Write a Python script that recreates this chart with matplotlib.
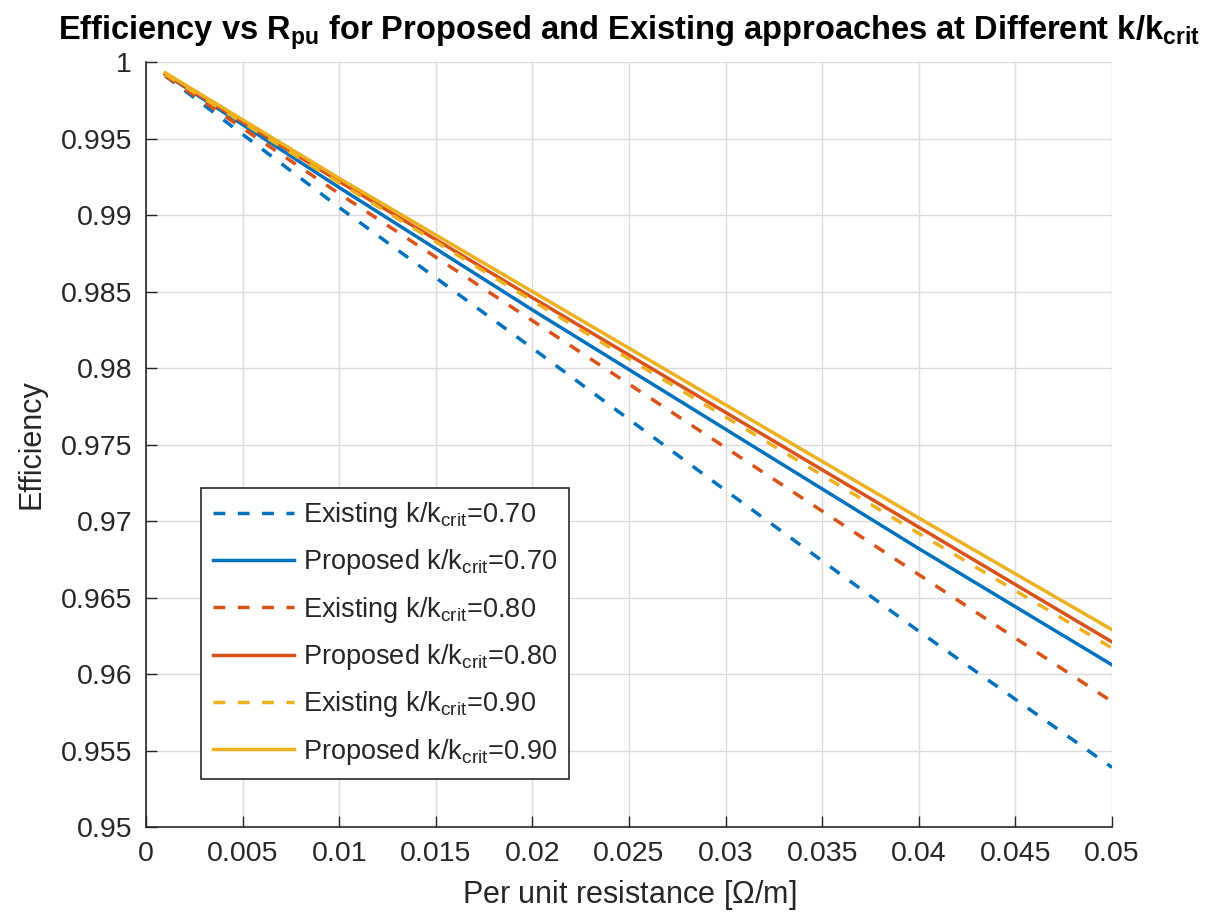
import matplotlib
matplotlib.use('Agg')
import matplotlib.pyplot as plt

# Datos (eficiencia vs resistencia por unidad)
r_pu = [0.001, 0.01, 0.02, 0.03, 0.04, 0.05]

existing_070 = [0.9991, 0.9905, 0.9813, 0.9720, 0.9628, 0.9539]
proposed_070 = [0.9992, 0.9918, 0.9838, 0.9760, 0.9682, 0.9606]
existing_080 = [0.9991, 0.9914, 0.9831, 0.9748, 0.9665, 0.9582]
proposed_080 = [0.9992, 0.9922, 0.9846, 0.9771, 0.9696, 0.9621]
existing_090 = [0.9992, 0.9921, 0.9844, 0.9768, 0.9692, 0.9617]
proposed_090 = [0.9993, 0.9924, 0.9850, 0.9776, 0.9702, 0.9629]

ratios = ['0.70', '0.80', '0.90']
colores = ['#0072BD', '#D95319', '#EDB120']

x_ticks = [0, 0.005, 0.01, 0.015, 0.02, 0.025, 0.03, 0.035, 0.04, 0.045, 0.05]
x_ticklabels = ['0', '0.005', '0.01', '0.015', '0.02', '0.025', '0.03', '0.035', '0.04', '0.045', '0.05']
y_ticks = [0.95, 0.955, 0.96, 0.965, 0.97, 0.975, 0.98, 0.985, 0.99, 0.995, 1.0]
y_ticklabels = ['0.95', '0.955', '0.96', '0.965', '0.97', '0.975', '0.98', '0.985', '0.99', '0.995', '1']

plt.rcParams['font.family'] = ['Liberation Sans', 'DejaVu Sans']
plt.rcParams['mathtext.default'] = 'regular'

fig = plt.figure(figsize=(12.16, 9.19), dpi=100)
ax = fig.add_axes([0.120, 0.100, 0.7945, 0.8325])

series = [(existing_070, proposed_070), (existing_080, proposed_080), (existing_090, proposed_090)]
for (ex, pr), ratio, c in zip(series, ratios, colores):
    ax.plot(r_pu, ex, color=c, lw=2.5, linestyle=(0, (3.4, 3.6)),
            label='Existing k/k$_{crit}$=' + ratio)
    ax.plot(r_pu, pr, color=c, lw=2.5, linestyle='-',
            label='Proposed k/k$_{crit}$=' + ratio)

ax.set_xlim(0, 0.05)
ax.set_ylim(0.95, 1.0)
ax.set_xticks(x_ticks)
ax.set_xticklabels(x_ticklabels)
ax.set_yticks(y_ticks)
ax.set_yticklabels(y_ticklabels)

ax.tick_params(direction='in', length=8, width=1, colors='#262626', labelsize=20.5, pad=10)
ax.grid(True, color='#dcdcdc', linewidth=1)
ax.set_axisbelow(True)
for lado in ['top', 'right']:
    ax.spines[lado].set_visible(False)
for lado in ['left', 'bottom']:
    ax.spines[lado].set_color('#262626')
    ax.spines[lado].set_linewidth(1.2)

ax.set_xlabel('Per unit resistance [$\\Omega$/m]', fontsize=22, color='#262626', labelpad=8)
ax.set_ylabel('Efficiency', fontsize=22, color='#262626', labelpad=10)
ax.set_title('Efficiency vs R$_{pu}$ for Proposed and Existing approaches at Different k/k$_{crit}$',
             fontsize=23.5, fontweight='bold', pad=16)

leg = ax.legend(loc='lower left', bbox_to_anchor=(0.057, 0.063), borderaxespad=0,
                fontsize=19.5, handlelength=3.0, labelspacing=0.64, handletextpad=0.3,
                fancybox=False, framealpha=1, edgecolor='#262626', borderpad=0.45)
leg.get_frame().set_linewidth(1.2)
for t in leg.get_texts():
    t.set_color('#262626')

plt.savefig('out.png', dpi=100)
